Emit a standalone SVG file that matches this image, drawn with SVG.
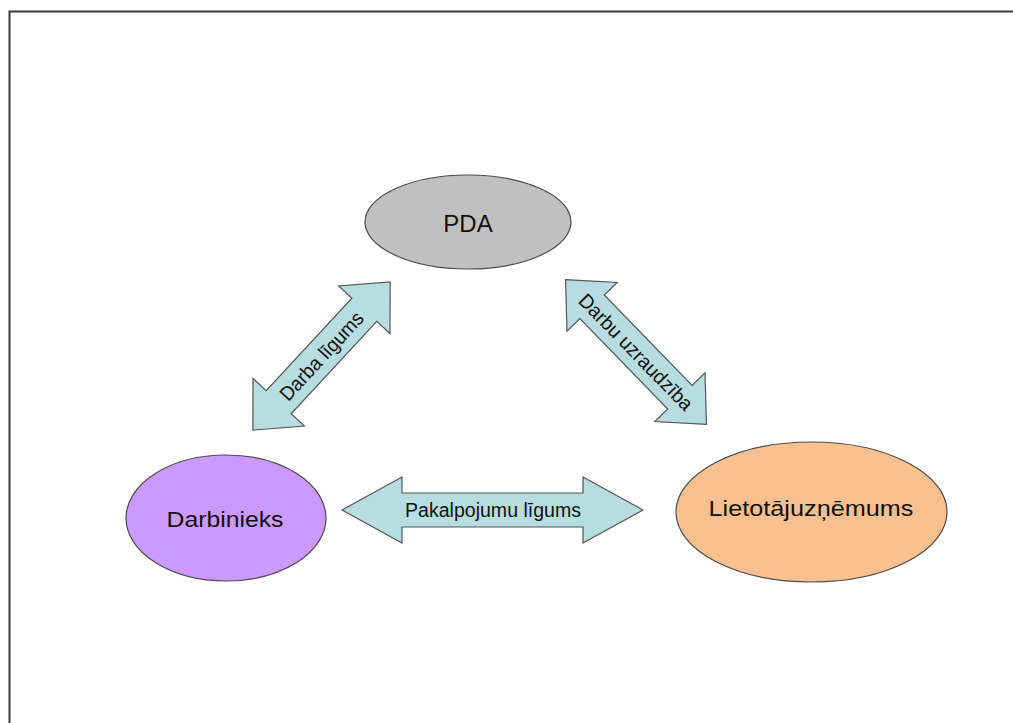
<svg xmlns="http://www.w3.org/2000/svg" width="1013" height="723" viewBox="0 0 1013 723">
<style>
.node{stroke:#4a4a4a;stroke-width:1.2}
.arr{fill:#b8dde0;stroke:#555;stroke-width:1.2}
text{font-family:"Liberation Sans",Arial,sans-serif;fill:#111;text-anchor:middle}
</style>
<rect x="0" y="0" width="1013" height="723" fill="#fff"/>
<rect x="9.5" y="11.5" width="1020" height="730" fill="none" stroke="#3a3a3a" stroke-width="2"/>
<defs>
<polygon id="diag" points="-101,0 -63,-35 -63,-17 63,-17 63,-35 101,0 63,35 63,17 -63,17 -63,35"/>
</defs>
<g id="connectors">
<g id="arrow-darba">
<use href="#diag" class="arr" transform="translate(321.5,356) rotate(-47.2)"/>
<text transform="translate(321.5,356) rotate(-47.2)" x="0" y="7" font-size="20" textLength="113" lengthAdjust="spacingAndGlyphs">Darba līgums</text>
</g>
<g id="arrow-uzraudziba">
<use href="#diag" class="arr" transform="translate(636,352) rotate(45.8)"/>
<text transform="translate(636,352) rotate(45.8)" x="0" y="7" font-size="20" textLength="154" lengthAdjust="spacingAndGlyphs">Darbu uzraudzība</text>
</g>
<g id="arrow-pakalpojumu">
<polygon class="arr" points="342,510 402,477 402,493 583,493 583,477 643,510 583,543 583,527 402,527 402,543"/>
<text x="493" y="517" font-size="19.5" textLength="176" lengthAdjust="spacingAndGlyphs">Pakalpojumu līgums</text>
</g>
</g>
<g id="node-pda">
<ellipse class="node" cx="468" cy="222" rx="103" ry="47" fill="#c0c0c0"/>
<text x="468" y="232" font-size="24">PDA</text>
</g>
<g id="node-darbinieks">
<ellipse class="node" cx="226" cy="518" rx="100" ry="63" fill="#cc99ff"/>
<text x="225" y="527" font-size="22.5" textLength="117" lengthAdjust="spacingAndGlyphs">Darbinieks</text>
</g>
<g id="node-lietotajuznemums">
<ellipse class="node" cx="811.5" cy="512" rx="135.5" ry="70" fill="#fac090"/>
<text x="811" y="516" font-size="22.5" textLength="205" lengthAdjust="spacingAndGlyphs">Lietotājuzņēmums</text>
</g>
</svg>
